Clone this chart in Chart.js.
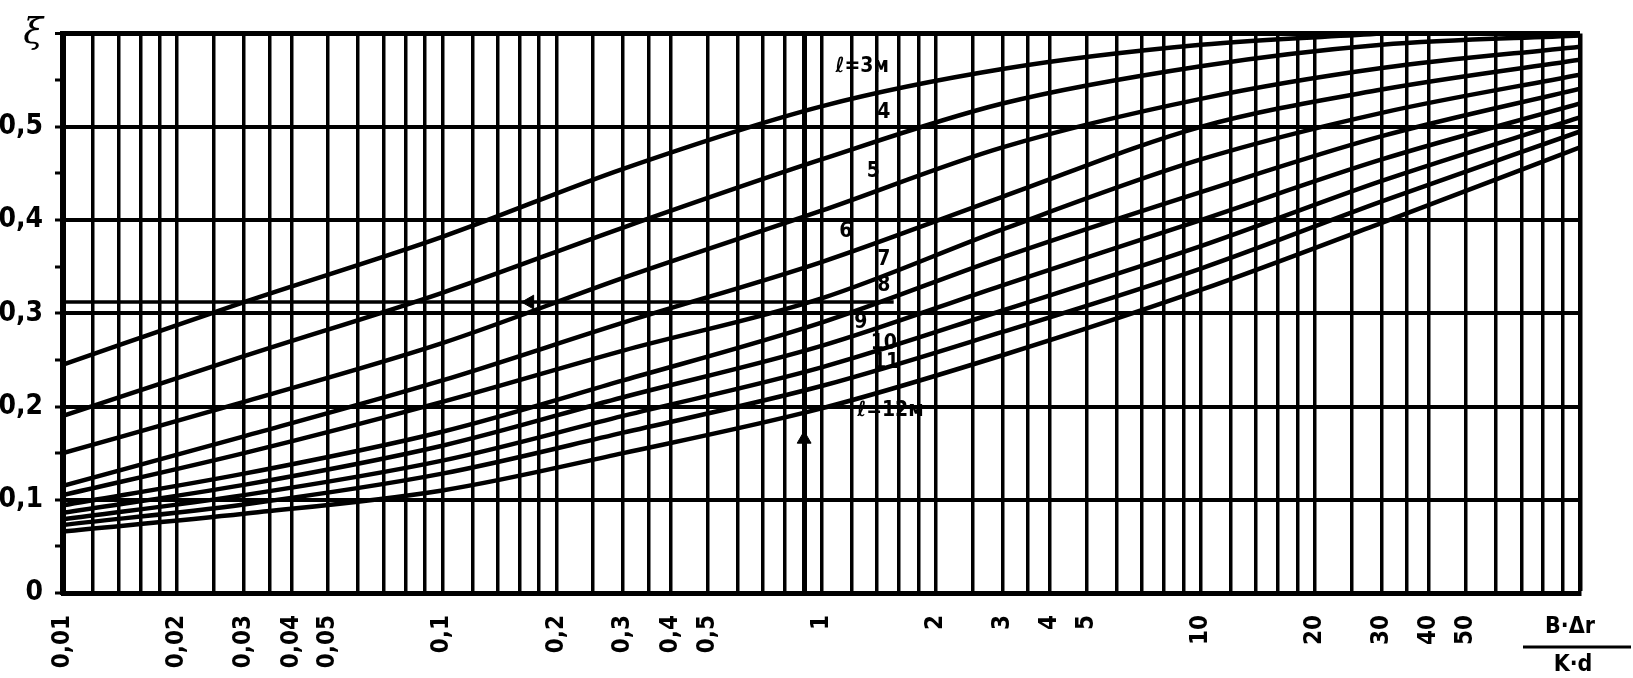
<!DOCTYPE html>
<html>

<head>
  <title>xi chart</title>
  <script src="https://cdn.jsdelivr.net/npm/chart.js"></script>
  <style type="text/css">
    body {
      margin: 0;
      background: #fff;
    }

    .chart-box {
      position: relative;
      width: 1633px;
      height: 678px;
    }
  </style>
</head>

<body>
  <div class="chart-box">
    <canvas id="myChart"></canvas>
  </div>

  <script>
    // x = B·Δr / K·d, read at these points
    const xs = [0.01, 0.03, 0.1, 0.3, 1, 3, 10, 30, 100];

    // ξ for every curve ℓ = 3 ... 12 m
    const l3 = [0.245, 0.312, 0.382, 0.455, 0.522, 0.562, 0.588, 0.600, null];
    const l4 = [0.190, 0.254, 0.322, 0.392, 0.465, 0.525, 0.565, 0.588, 0.598];
    const l5 = [0.150, 0.205, 0.268, 0.338, 0.410, 0.478, 0.530, 0.563, 0.586];
    const l6 = [0.115, 0.168, 0.228, 0.290, 0.355, 0.425, 0.500, 0.540, 0.572];
    const l7 = [0.105, 0.150, 0.205, 0.260, 0.316, 0.390, 0.465, 0.515, 0.556];
    const l8 = [0.094, 0.128, 0.173, 0.228, 0.290, 0.360, 0.430, 0.490, 0.541];
    const l9 = [0.086, 0.116, 0.158, 0.210, 0.265, 0.330, 0.400, 0.465, 0.525];
    const l10 = [0.079, 0.105, 0.142, 0.190, 0.242, 0.303, 0.372, 0.442, 0.510];
    const l11 = [0.073, 0.095, 0.128, 0.172, 0.222, 0.280, 0.348, 0.420, 0.495];
    const l12 = [0.066, 0.085, 0.110, 0.150, 0.198, 0.255, 0.325, 0.397, 0.478];
    const series = [l3, l4, l5, l6, l7, l8, l9, l10, l11, l12];

    // curve labels and where they sit (data units)
    const curveNames = ['ℓ=3м', '4', '5', '6', '7', '8', '9', '10', '11', 'ℓ=12м'];
    const nameX = [1.28, 1.46, 1.37, 1.16, 1.46, 1.46, 1.27, 1.46, 1.48, 1.52];
    const nameY = [0.565, 0.515, 0.452, 0.388, 0.358, 0.330, 0.290, 0.268, 0.247, 0.196];

    // reading example: ξ = 0,315
    const readX = [0.01, 1.55];
    const readY = [0.312, 0.312];
    const arrowX = [0.17, 0.9];
    const arrowY = [0.312, 0.165];

    // paper grid and labelled ticks
    const decades = [0.01, 0.1, 1, 10];
    const subSteps = [1, 1.2, 1.4, 1.6, 1.8, 2, 2.5, 3, 3.5, 4, 5, 6, 7, 8, 9];
    const xLabels = [0.01, 0.02, 0.03, 0.04, 0.05, 0.1, 0.2, 0.3, 0.4, 0.5, 1, 2, 3, 4, 5, 10, 20, 30, 40, 50];

    let gridX = [];
    decades.forEach(d => subSteps.forEach(s => gridX.push(+(d * s).toPrecision(4))));
    gridX.push(100);

    const near = (a, b) => Math.abs(a - b) < b * 1e-6;
    const fontStack = '"DejaVu Sans Condensed", "DejaVu Sans", sans-serif';

    const datasets = series.map((vals, i) => ({
      label: curveNames[i],
      data: xs.map((x, j) => ({ x: x, y: vals[j] })),
      borderColor: '#000',
      borderWidth: 4.5,
      pointRadius: 0,
      cubicInterpolationMode: 'monotone',
      spanGaps: false
    }));

    datasets.push({
      label: 'read',
      data: readX.map((x, j) => ({ x: x, y: readY[j] })),
      borderColor: '#000',
      borderWidth: 3.5,
      pointRadius: 0
    });

    datasets.push({
      label: 'arrows',
      data: arrowX.map((x, j) => ({ x: x, y: arrowY[j] })),
      showLine: false,
      pointStyle: 'triangle',
      pointRadius: 8,
      rotation: [270, 0],
      backgroundColor: '#000',
      borderColor: '#000'
    });

    const textPlugin = {
      id: 'textPlugin',
      afterDatasetsDraw(chart) {
        const ctx = chart.ctx;
        const x = chart.scales.x;
        const y = chart.scales.y;
        ctx.save();
        ctx.fillStyle = '#000';
        ctx.strokeStyle = '#000';
        ctx.textAlign = 'center';
        ctx.textBaseline = 'middle';
        ctx.font = 'bold 21px ' + fontStack;
        for (let i = 0; i < curveNames.length; i++) {
          ctx.fillText(curveNames[i], x.getPixelForValue(nameX[i]), y.getPixelForValue(nameY[i]));
        }

        // axis title as a fraction
        const r = chart.chartArea.right;
        ctx.font = 'bold 23px ' + fontStack;
        ctx.fillText('B·Δr', r - 10, 627);
        ctx.lineWidth = 3;
        ctx.beginPath();
        ctx.moveTo(r - 57, 647);
        ctx.lineTo(chart.width - 2, 647);
        ctx.stroke();
        ctx.fillText('K·d', r - 7, 665);
        ctx.restore();
      }
    };

    var ctx = document.getElementById('myChart').getContext('2d');
    var myChart = new Chart(ctx, {
      type: 'line',
      data: { datasets: datasets },
      plugins: [textPlugin],
      options: {
        responsive: true,
        maintainAspectRatio: false,
        animation: false,
        layout: { padding: { top: 32, right: 53, left: 0, bottom: 0 } },
        plugins: {
          legend: { display: false },
          tooltip: { enabled: false }
        },
        scales: {
          x: {
            type: 'logarithmic',
            min: 0.01,
            max: 100,
            afterBuildTicks: function (scale) {
              scale.ticks = gridX.map(v => ({ value: v }));
            },
            afterFit: function (scale) {
              scale.height = 85;
            },
            border: { color: '#000', width: 5 },
            grid: {
              color: '#000',
              drawTicks: false,
              lineWidth: function (c) {
                const v = c.tick.value;
                if (near(v, 100)) return 4.5;
                if (near(v, 0.9)) return 5;
                return 3.5;
              }
            },
            ticks: {
              autoSkip: false,
              minRotation: 90,
              maxRotation: 90,
              padding: 22,
              color: '#000',
              font: { family: fontStack, size: 24, weight: 'bold' },
              callback: function (value) {
                const hit = xLabels.find(v => near(value, v));
                if (hit === undefined) return '';
                return String(hit).replace('.', ',');
              }
            }
          },
          y: {
            min: 0,
            max: 0.6,
            afterFit: function (scale) {
              scale.width = 63;
            },
            border: { color: '#000', width: 6 },
            grid: {
              color: function (c) {
                return Math.round(c.tick.value * 100) % 10 === 0 ? '#000' : 'rgba(0,0,0,0)';
              },
              tickColor: '#000',
              tickLength: 8,
              tickWidth: 3,
              lineWidth: function (c) {
                return Math.round(c.tick.value * 100) === 60 ? 5 : 4;
              }
            },
            ticks: {
              stepSize: 0.05,
              padding: 12,
              color: '#000',
              font: function (c) {
                if (c.tick && Math.round(c.tick.value * 100) === 60) {
                  return { family: '"DejaVu Serif", serif', size: 36, style: 'italic' };
                }
                return { family: fontStack, size: 28, weight: 'bold' };
              },
              callback: function (value) {
                const k = Math.round(value * 100);
                if (k === 60) return 'ξ';
                if (k % 10 !== 0) return '';
                if (k === 0) return '0';
                return (k / 100).toFixed(1).replace('.', ',');
              }
            }
          }
        }
      }
    });
  </script>
</body>

</html>
